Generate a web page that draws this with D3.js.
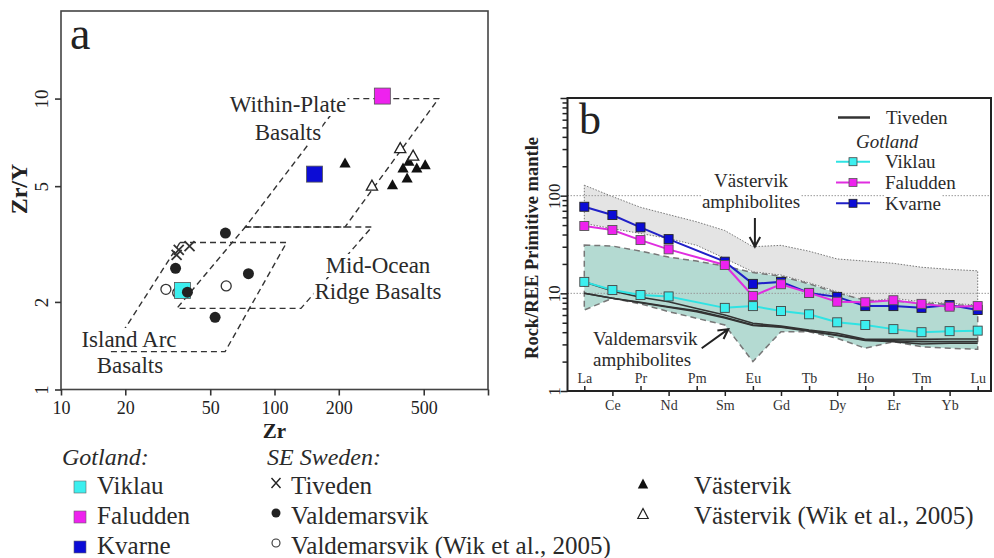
<!DOCTYPE html>
<html><head><meta charset="utf-8">
<script src="https://cdn.jsdelivr.net/npm/d3@7"></script>
<style>
html,body{margin:0;padding:0;background:#fff;}
svg{display:block;font-family:"Liberation Serif","Times New Roman",serif;}
</style></head><body>
<svg id="c" width="994" height="558"></svg>
<script>
// ---------- Panel a data (Zr, Zr/Y) ----------
const zrTicks = [10, 20, 50, 100, 200, 500, 1000];
const zrYTicks = [1, 2, 5, 10];
const viklauA = [[37.1, 2.19]];
const faluddenA = [[320, 10.2]];
const kvarneA = [[154, 5.5]];
const tivedenA = [[34.8, 2.90], [35.6, 3.02], [40.0, 3.11]];
const valdemarsvikA = [[58.9, 3.45], [34.4, 2.61], [75.5, 2.50], [39.1, 2.16], [52.7, 1.77]];
const valdemarsvikWikA = [[31.0, 2.21], [35.2, 2.15], [59.4, 2.27]];
const vastervikA = [[214, 5.98], [357, 5.04], [400, 5.75], [418, 5.31], [464, 5.75], [508, 5.90], [426, 6.06]];
const vastervikWikA = [[388, 6.73], [446, 6.34], [286, 5.0]];
const wpbField = [[210, 10], [587, 10], [214, 3.62], [73, 3.62]];
const morbField = [[73, 3.62], [286, 3.62], [133, 1.90], [34.9, 1.90]];
const iabField = [[36.1, 3.2], [114, 3.2], [58.7, 1.35], [17, 1.35]];

// ---------- Panel b data (normalised REE) ----------
const elements = ['La','Ce','Pr','Nd','Pm','Sm','Eu','Gd','Tb','Dy','Ho','Er','Tm','Yb','Lu'];
const reeYTicks = [1, 10, 100, 1000];
const viklauREE   = [13.1, 10.8, 9.6, 9.3, null, 7.1, 7.4, 6.6, 6.1, 5.05, 4.74, 4.3, 4.0, 4.1, 4.15];
const faluddenREE = [48.9, 44.5, 35.1, 28.2, null, 19.5, 9.4, 12.4, 10.1, 8.2, 8.1, 8.5, 7.8, 7.3, 7.4];
const kvarneREE   = [77, 63.3, 47.4, 35.9, null, 21.1, 12.5, 13.1, 10.1, 9.2, 7.4, 7.4, 7.1, 7.6, 6.75];
const tiveden1 = [13.1, 10.6, 9.1, 8.2, 7.0, 6.0, 4.93, 4.63, 4.21, 3.90, 3.38, 3.38, 3.38, 3.41, 3.41];
const tiveden2 = [10.0, 8.9, 8.1, 7.3, 6.64, 5.68, 4.74, 4.55, 4.14, 3.74, 3.33, 3.27, 3.2, 3.2, 3.2];
const tiveden3 = [10.0, 8.9, 8.0, 7.2, 6.5, 5.6, 4.7, 4.5, 4.1, 3.7, 3.3, 3.2, 3.03, 3.08, 3.08];
const vastervikUpper = [128, 98, 76, 64, 54, 44, 30, 31, 27, 22.5, 21.4, 20.3, 18.5, 17.6, 17];
const vastervikLower = [52, 46, 41, 36.5, 31, 22.8, 16.6, 15.4, 12.8, 10.4, 8.2, 8.9, 8.2, 7.9, 7.6];
const valdemarsvikUpper = [31.2, 30.5, 27.1, 23.5, 21.4, 19.0, 16.3, 15, 12.5, 10.1, 8.5, 8.3, 8.0, 7.7, 7.4];
const valdemarsvikLower = [6.75, 8.9, 7.8, 6.5, 5.55, 4.74, 2.0, 4.05, 4.05, 3.46, 2.74, 3.2, 2.84, 2.74, 2.67];

// ---------- colours ----------
const cCyan = '#3cefef', cCyanLine = '#2fe3e3';
const cMag = '#ee22ee', cMagLine = '#e02ee0';
const cBlue = '#0c0cd6', cBlueLine = '#2020c8';
const SERIF = '"Liberation Serif","Times New Roman",serif';

const svg = d3.select('#c').attr('font-family', SERIF);
svg.append('rect').attr('width', 994).attr('height', 558).attr('fill', '#fff');

function bgText(g, x, y, txt, size, anchor) {
  const t = g.append('text').attr('x', x).attr('y', y).attr('font-size', size)
    .attr('text-anchor', anchor || 'middle').attr('fill', '#2a2a2a')
    .style('font-family', SERIF).text(txt);
  const bb = t.node().getBBox();
  g.insert('rect', () => t.node()).attr('x', bb.x - 1).attr('y', bb.y + 1)
    .attr('width', bb.width + 2).attr('height', bb.height - 2).attr('fill', '#fff');
  return t;
}

// ================= PANEL A =================
const xA = d3.scaleLog().domain([10, 1000]).range([61, 488]);
const yA = d3.scaleLog().domain([1, 20]).range([389.5, 11]);
const gA = svg.append('g');

const fieldLine = d3.line().x(d => xA(d[0])).y(d => yA(d[1])).curve(d3.curveLinearClosed);
[wpbField, morbField, iabField].forEach(f => {
  gA.append('path').attr('d', fieldLine(f)).attr('fill', 'none')
    .attr('stroke', '#333').attr('stroke-width', 1.4).attr('stroke-dasharray', '6,4');
});

bgText(gA, 288, 112, 'Within-Plate', 23);
bgText(gA, 288, 139.5, 'Basalts', 23);
bgText(gA, 378, 273, 'Mid-Ocean', 23);
bgText(gA, 378, 299, 'Ridge Basalts', 23);
bgText(gA, 129, 347, 'Island Arc', 23);
bgText(gA, 130, 373, 'Basalts', 23);

// box
gA.append('rect').attr('x', xA(10)).attr('y', yA(20)).attr('width', xA(1000) - xA(10))
  .attr('height', yA(1) - yA(20)).attr('fill', 'none').attr('stroke', '#444').attr('stroke-width', 1.6);

// axes
const axAx = gA.append('g').attr('transform', `translate(0,${yA(1)})`)
  .call(d3.axisBottom(xA).tickValues(zrTicks).tickSize(6).tickSizeOuter(0)
    .tickFormat(d => d === 1000 ? '' : d));
axAx.select('.domain').remove();
axAx.selectAll('line').attr('stroke', '#333').attr('stroke-width', 1.6);
axAx.selectAll('text').attr('y', 12).attr('font-size', 18).attr('fill', '#222');

const axAy = gA.append('g').attr('transform', `translate(${xA(10)},0)`)
  .call(d3.axisLeft(yA).tickValues(zrYTicks).tickSize(6).tickSizeOuter(0).tickFormat(d => d));
axAy.select('.domain').remove();
axAy.selectAll('line').attr('stroke', '#333').attr('stroke-width', 1.6);
axAy.selectAll('text').attr('x', null).attr('dy', null).attr('text-anchor', 'middle')
  .attr('transform', 'translate(-13,0) rotate(-90)').attr('font-size', 19).attr('fill', '#222');

gA.append('text').attr('transform', 'translate(27,189) rotate(-90)').attr('text-anchor', 'middle')
  .attr('font-size', 24).attr('font-weight', 'bold').attr('fill', '#222').text('Zr/Y');
gA.append('text').attr('x', 274.5).attr('y', 438).attr('text-anchor', 'middle')
  .attr('font-size', 21).attr('font-weight', 'bold').attr('fill', '#222').text('Zr');
gA.append('text').attr('x', 70).attr('y', 49).attr('font-size', 46).attr('fill', '#222').text('a');

// markers
const triPath = 'M0,-6L5.6,4L-5.6,4Z';
const crossPath = 'M-5,-5L5,5M-5,5L5,-5';
gA.selectAll('.vt').data(vastervikA).join('path').attr('d', triPath)
  .attr('transform', d => `translate(${xA(d[0])},${yA(d[1])})`).attr('fill', '#111');
gA.selectAll('.vtw').data(vastervikWikA).join('path').attr('d', triPath)
  .attr('transform', d => `translate(${xA(d[0])},${yA(d[1])})`).attr('fill', '#fff')
  .attr('stroke', '#222').attr('stroke-width', 1.3);
gA.selectAll('.tv').data(tivedenA).join('path').attr('d', crossPath)
  .attr('transform', d => `translate(${xA(d[0])},${yA(d[1])})`).attr('fill', 'none')
  .attr('stroke', '#333').attr('stroke-width', 1.8);
gA.selectAll('.vw').data(valdemarsvikWikA).join('circle').attr('cx', d => xA(d[0])).attr('cy', d => yA(d[1]))
  .attr('r', 5).attr('fill', '#fff').attr('stroke', '#333').attr('stroke-width', 1.3);
function squares(data, fill, size) {
  gA.selectAll(null).data(data).join('rect')
    .attr('x', d => xA(d[0]) - size / 2).attr('y', d => yA(d[1]) - size / 2)
    .attr('width', size).attr('height', size).attr('fill', fill)
    .attr('stroke', '#555').attr('stroke-width', 0.8);
}
squares(viklauA, cCyan, 16);
squares(faluddenA, cMag, 16);
squares(kvarneA, cBlue, 16);
gA.selectAll('.vd').data(valdemarsvikA).join('circle').attr('cx', d => xA(d[0])).attr('cy', d => yA(d[1]))
  .attr('r', 5.5).attr('fill', '#222');

// ---------- legend below panel a ----------
const gL = svg.append('g').attr('fill', '#2a2a2a').attr('font-size', 25);
gL.append('text').attr('x', 62).attr('y', 465).attr('font-size', 24).attr('font-style', 'italic').text('Gotland:');
gL.append('text').attr('x', 267).attr('y', 465).attr('font-size', 24).attr('font-style', 'italic').text('SE Sweden:');
const legRowsY = [486, 516, 546];
const gotlandLegend = [['Viklau', cCyan], ['Faludden', cMag], ['Kvarne', cBlue]];
gotlandLegend.forEach((d, i) => {
  gL.append('rect').attr('x', 74).attr('y', legRowsY[i] - 5).attr('width', 12).attr('height', 12)
    .attr('fill', d[1]).attr('stroke', '#666').attr('stroke-width', 0.6);
  gL.append('text').attr('x', 97).attr('y', legRowsY[i] + 8).text(d[0]);
});
const seLegend = ['Tiveden', 'Valdemarsvik', 'Valdemarsvik (Wik et al., 2005)'];
seLegend.forEach((d, i) => {
  gL.append('text').attr('x', 291).attr('y', legRowsY[i] + 8).text(d);
});
gL.append('path').attr('d', 'M-4.5,-5L4.5,5M-4.5,5L4.5,-5').attr('transform', `translate(276,${legRowsY[0] - 3})`)
  .attr('stroke', '#222').attr('stroke-width', 1.4).attr('fill', 'none');
gL.append('circle').attr('cx', 276).attr('cy', legRowsY[1] - 3).attr('r', 4.5).attr('fill', '#222');
gL.append('circle').attr('cx', 276).attr('cy', legRowsY[2] - 3).attr('r', 4).attr('fill', '#fff')
  .attr('stroke', '#333').attr('stroke-width', 1.1);
const vLegend = ['Västervik', 'Västervik (Wik et al., 2005)'];
vLegend.forEach((d, i) => {
  gL.append('text').attr('x', 694).attr('y', legRowsY[i] + 8).text(d);
});
gL.append('path').attr('d', 'M0,-5.5L5.2,4.5L-5.2,4.5Z').attr('transform', `translate(643,${legRowsY[0] - 2})`).attr('fill', '#111');
gL.append('path').attr('d', 'M0,-5.5L5.2,4.5L-5.2,4.5Z').attr('transform', `translate(643,${legRowsY[1] - 2})`)
  .attr('fill', '#fff').attr('stroke', '#222').attr('stroke-width', 1.2);

// ================= PANEL B =================
const xB = d3.scalePoint().domain(elements).range([584.3, 977.7]);
const yB = d3.scaleLog().domain([1, 1000]).range([391, 98]);
const bLeft = 567.5, bRight = 991;
const gB = svg.append('g');

function band(upper, lower) {
  const pts = elements.map((e, i) => [xB(e), yB(upper[i])])
    .concat(elements.map((e, i) => [xB(e), yB(lower[i])]).reverse());
  return d3.line().curve(d3.curveLinearClosed)(pts);
}
gB.append('path').attr('d', band(vastervikUpper, vastervikLower)).attr('fill', '#e4e4e4')
  .attr('stroke', '#777').attr('stroke-width', 1).attr('stroke-dasharray', '1.5,1.5');
gB.append('path').attr('d', band(valdemarsvikUpper, valdemarsvikLower)).attr('fill', '#b4dad2')
  .attr('stroke', '#777').attr('stroke-width', 1.5).attr('stroke-dasharray', '6,4');

// gridlines
gB.selectAll('.grid').data([10, 100]).join('line')
  .attr('x1', bLeft).attr('x2', bRight).attr('y1', d => yB(d)).attr('y2', d => yB(d))
  .attr('stroke', '#999').attr('stroke-width', 1).attr('stroke-dasharray', '1.5,1.5');

// annotations
bgText(gB, 751, 186.5, 'Västervik', 19);
bgText(gB, 751, 208, 'amphibolites', 19);
bgText(gB, 593, 345, 'Valdemarsvik', 19, 'start');
bgText(gB, 593, 366, 'amphibolites', 19, 'start');

function arrow(x1, y1, x2, y2) {
  const a = Math.atan2(y2 - y1, x2 - x1), L = 11, w = 0.5;
  gB.append('path').attr('d', `M${x1},${y1}L${x2},${y2}M${x2 - L * Math.cos(a - w)},${y2 - L * Math.sin(a - w)}L${x2},${y2}L${x2 - L * Math.cos(a + w)},${y2 - L * Math.sin(a + w)}`)
    .attr('fill', 'none').attr('stroke', '#222').attr('stroke-width', 2);
}
arrow(xB('Eu') + 2, yB(59), xB('Eu') + 2, yB(30));
arrow(xB('Pm') + 5, yB(2.74), xB('Sm') + 3.5, yB(4.3));

// Tiveden lines
const lineGen = d3.line().defined(d => d[1] != null).x(d => xB(d[0])).y(d => yB(d[1]));
[tiveden1, tiveden2, tiveden3].forEach(s => {
  gB.append('path').attr('d', lineGen(elements.map((e, i) => [e, s[i]])))
    .attr('fill', 'none').attr('stroke', '#333').attr('stroke-width', 1.6);
});

function series(vals, lineCol, fill, stroke) {
  const pts = elements.map((e, i) => [e, vals[i]]).filter(d => d[1] != null);
  gB.append('path').attr('d', d3.line().x(d => xB(d[0])).y(d => yB(d[1]))(pts))
    .attr('fill', 'none').attr('stroke', lineCol).attr('stroke-width', 2);
  gB.selectAll(null).data(pts).join('rect')
    .attr('x', d => xB(d[0]) - 4.5).attr('y', d => yB(d[1]) - 4.5).attr('width', 9).attr('height', 9)
    .attr('fill', fill).attr('stroke', stroke).attr('stroke-width', 0.9);
}
series(viklauREE, cCyanLine, cCyan, '#444');
series(kvarneREE, cBlueLine, cBlue, '#222');
series(faluddenREE, cMagLine, cMag, '#555');

// box
gB.append('rect').attr('x', bLeft).attr('y', yB(1000)).attr('width', bRight - bLeft)
  .attr('height', yB(1) - yB(1000)).attr('fill', 'none').attr('stroke', '#222').attr('stroke-width', 2);

// y axis with minor ticks
const minorTicks = [];
[1, 10, 100].forEach(p => { for (let m = 1; m <= 9; m++) minorTicks.push(m * p); });
minorTicks.push(1000);
const axBy = gB.append('g').attr('transform', `translate(${bLeft},0)`)
  .call(d3.axisLeft(yB).tickValues(minorTicks).tickSize(5).tickSizeOuter(0)
    .tickFormat(d => [1, 10, 100].includes(d) ? d : ''));
axBy.select('.domain').remove();
axBy.selectAll('line').attr('stroke', '#222').attr('stroke-width', 1.5)
  .attr('x2', d => reeYTicks.includes(d) ? -7 : -5);
axBy.selectAll('text').attr('x', null).attr('dy', null).attr('text-anchor', 'middle')
  .attr('transform', 'translate(-8,0) rotate(-90)').attr('font-size', 17).attr('fill', '#222');

gB.append('text').attr('transform', 'translate(538,248) rotate(-90)').attr('text-anchor', 'middle')
  .attr('font-size', 18.5).attr('font-weight', 'bold').attr('fill', '#222').text('Rock/REE Primitive mantle');

// x axis: alternate labels above/below
const upperEls = elements.filter((d, i) => i % 2 === 0);
const lowerEls = elements.filter((d, i) => i % 2 === 1);
const axBt = gB.append('g').attr('transform', `translate(0,${yB(1)})`)
  .call(d3.axisTop(xB).tickValues(upperEls).tickSize(5).tickSizeOuter(0));
const axBb = gB.append('g').attr('transform', `translate(0,${yB(1)})`)
  .call(d3.axisBottom(xB).tickValues(lowerEls).tickSize(5).tickSizeOuter(0));
[axBt, axBb].forEach(ax => {
  ax.select('.domain').remove();
  ax.selectAll('line').attr('stroke', '#222').attr('stroke-width', 1.5);
  ax.selectAll('text').attr('font-size', 14).attr('fill', '#333');
});
axBt.selectAll('text').attr('y', -8);
axBb.selectAll('text').attr('y', 9);

gB.append('text').attr('x', 579).attr('y', 134).attr('font-size', 44).attr('fill', '#222').text('b');

// legend panel b
const gLB = gB.append('g').attr('font-size', 19).attr('fill', '#2a2a2a');
gLB.append('line').attr('x1', 838).attr('x2', 870).attr('y1', 117.5).attr('y2', 117.5)
  .attr('stroke', '#333').attr('stroke-width', 2.5);
bgText(gLB, 886, 124, 'Tiveden', 19, 'start');
gLB.append('text').attr('x', 856).attr('y', 148).attr('font-style', 'italic').text('Gotland');
const legB = [['Viklau', cCyanLine, cCyan, '#444'], ['Faludden', cMagLine, cMag, '#555'], ['Kvarne', cBlueLine, cBlue, '#222']];
legB.forEach((d, i) => {
  const y = 161.7 + i * 20.8;
  gLB.append('line').attr('x1', 836).attr('x2', 870).attr('y1', y).attr('y2', y)
    .attr('stroke', d[1]).attr('stroke-width', 2);
  gLB.append('rect').attr('x', 853 - 4).attr('y', y - 4).attr('width', 8).attr('height', 8)
    .attr('fill', d[2]).attr('stroke', d[3]).attr('stroke-width', 0.8);
  bgText(gLB, 885, y + 6.3, d[0], 19, 'start');
});

// force serif font everywhere (d3 axes set sans-serif on their groups)
svg.selectAll('g').filter(function () { return this.hasAttribute('font-family'); }).attr('font-family', SERIF);
svg.selectAll('text').style('font-family', SERIF);
</script></body></html>
